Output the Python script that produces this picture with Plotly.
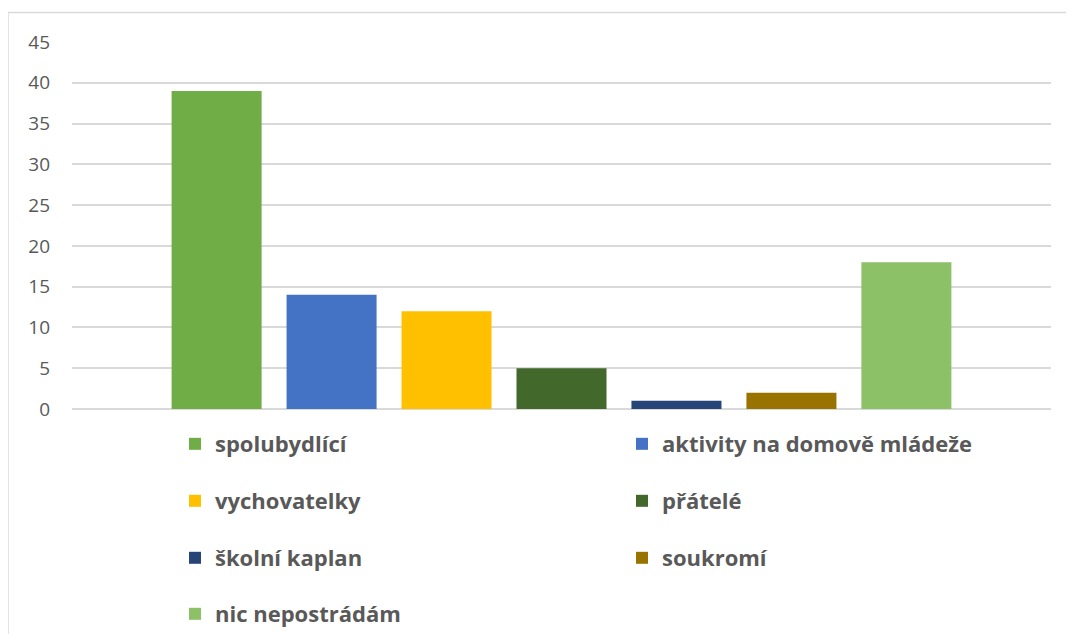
import plotly.graph_objects as go

# data
categories = ["spolubydlící", "aktivity na domově mládeže", "vychovatelky", "přátelé",
              "školní kaplan", "soukromí", "nic nepostrádám"]
values = [39, 14, 12, 5, 1, 2, 18]
colors = ["#70AD47", "#4472C4", "#FFC000", "#43682B", "#264478", "#997300", "#8CC168"]

# legend slots (paper coords): two columns, four rows like the Excel legend
leg_x = [0.1052, 0.5618]
leg_y = [-0.0954, -0.2507, -0.406, -0.5586]

fig = go.Figure()
legend_layout = {}
for i, (name, val, col) in enumerate(zip(categories, values, colors)):
    key = "legend" if i == 0 else "legend%d" % (i + 1)
    fig.add_trace(go.Bar(
        x=[""], y=[val], name=name,
        marker=dict(color=col, line=dict(width=0)),
        legend=key,
    ))
    legend_layout[key] = dict(
        x=leg_x[i % 2], y=leg_y[i // 2],
        xanchor="left", yanchor="middle", orientation="h",
        bgcolor="rgba(0,0,0,0)",
        font=dict(family="Open Sans", size=22, color="#595959", weight="bold"),
    )

# page body has an 8px margin in the browser, so the figure is 8px smaller
fig.update_layout(
    width=1066, height=626,
    margin=dict(l=64, r=23, t=34, b=225, autoexpand=False),
    paper_bgcolor="white", plot_bgcolor="white",
    barmode="group", bargap=0.178, bargroupgap=0.217,
    showlegend=True,
    font=dict(family="Open Sans", color="#595959"),
    **legend_layout,
)

fig.update_xaxes(showticklabels=False, showgrid=False, zeroline=False, showline=False)
fig.update_yaxes(
    range=[0, 45], dtick=5, tick0=0,
    showgrid=True, gridcolor="#D9D9D9", gridwidth=1.5,
    zeroline=True, zerolinecolor="#D9D9D9", zerolinewidth=1.5,
    tickfont=dict(family="Open Sans", size=19, color="#595959"),
    ticks="", ticklabelstandoff=21,
)

# chart area border (left and top edges visible in the screenshot)
fig.add_shape(type="line", xref="paper", yref="paper",
              x0=-0.0654, x1=1.05, y0=1.0804, y1=1.0804,
              line=dict(color="#D9D9D9", width=1.5))
fig.add_shape(type="line", xref="paper", yref="paper",
              x0=-0.0654, x1=-0.0654, y0=1.0804, y1=-0.65,
              line=dict(color="#D9D9D9", width=1.5))

fig.write_html("out.html")
